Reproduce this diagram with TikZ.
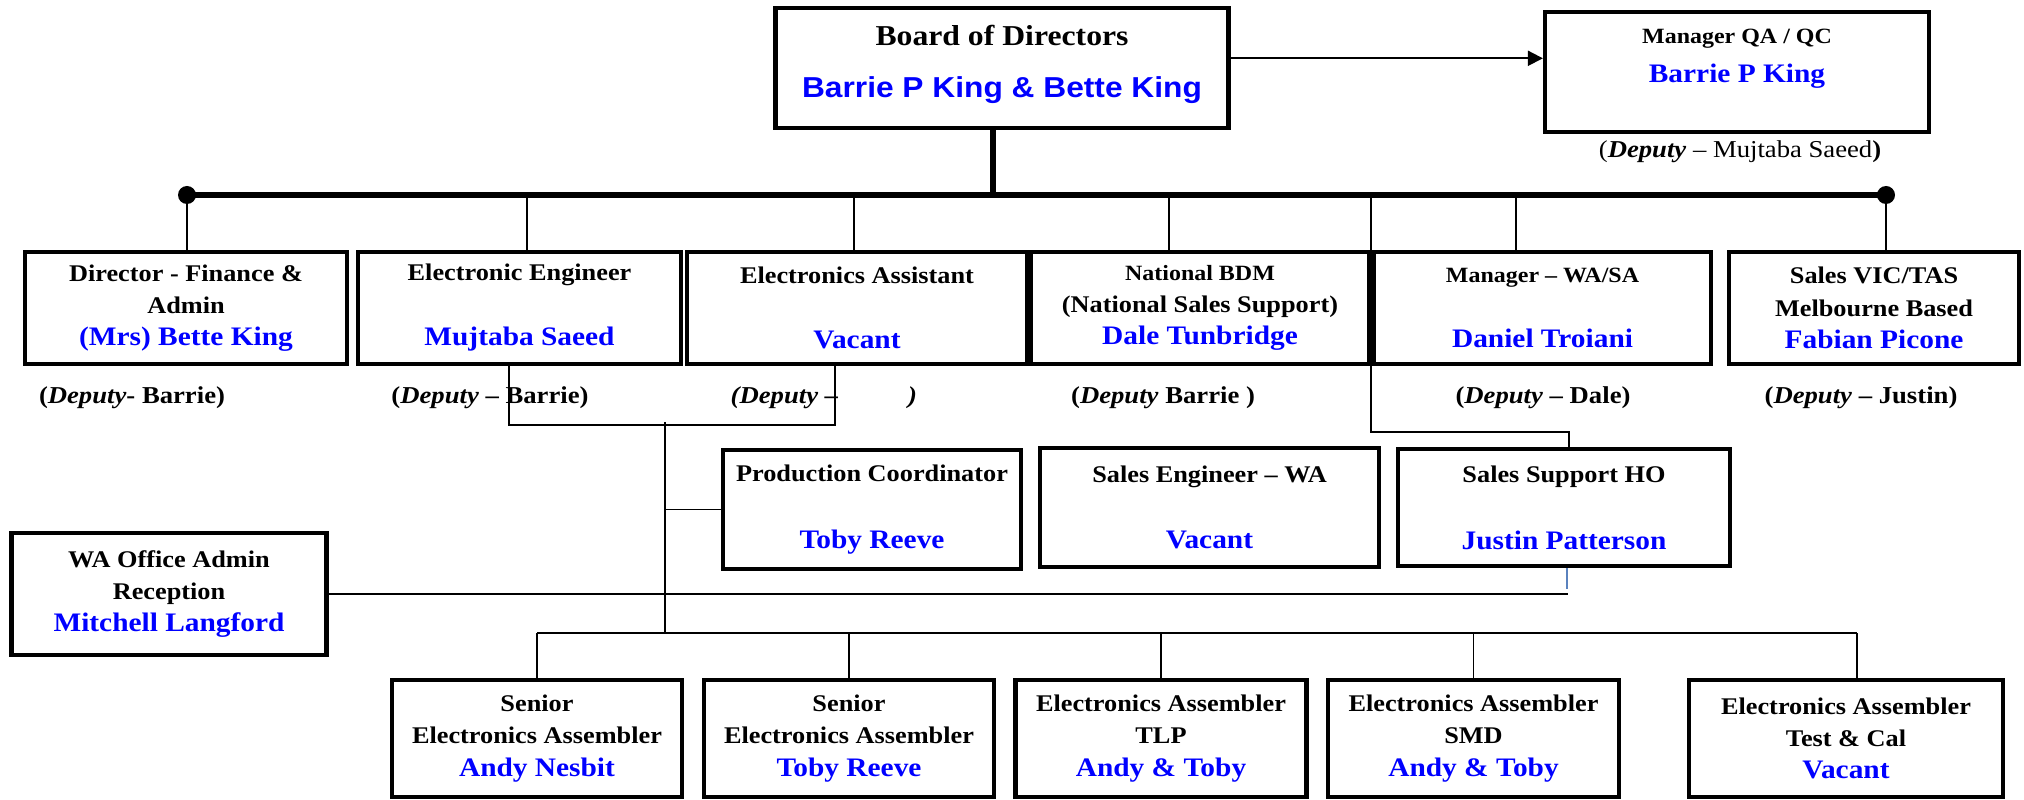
\documentclass[tikz,border=0pt]{standalone}
\usepackage{fontspec}
\setmainfont[FakeStretch=1.1]{Liberation Serif}
\newfontfamily\arialfont[FakeStretch=1.1]{Liberation Sans}
\usepackage{tikz}
\usetikzlibrary{arrows.meta}

\definecolor{steel}{RGB}{90,130,190}
\newcommand\postfont{\fontsize{6.8}{9.2}\selectfont\bfseries}
\newcommand\smallpostfont{\fontsize{6.2}{9.2}\selectfont\bfseries}
\newcommand\holderfont{\fontsize{7.6}{9.2}\selectfont\bfseries\color{blue}}
\newcommand\boardfont{\fontsize{8.2}{10}\selectfont\bfseries}
\newcommand\deputyfont{\fontsize{6.9}{9}\selectfont}

\begin{document}
\begin{tikzpicture}[
    post/.style={draw, line width=1.2pt, align=center, inner sep=0pt, font=\postfont},
    link/.style={line width=0.55pt},
    bus/.style={line width=1.8pt},
    deputy/.style={inner sep=0pt, font=\deputyfont\bfseries},
]
  \useasboundingbox (0,0) rectangle (20.24,-8.00);

  % top row
  \node[post, minimum width=4.53cm, minimum height=1.20cm, font=\boardfont, text depth=4.1pt] (board) at (10.02,-0.683)
    {Board of Directors\\[4.8pt]{\arialfont\color{blue}Barrie P King \& Bette King}};
  \node[post, minimum width=3.84cm, minimum height=1.20cm, font=\smallpostfont, text depth=9.3pt] (qa) at (17.37,-0.72)
    {Manager QA / QC\\[2pt]\holderfont Barrie P King};
  \node[deputy, font=\deputyfont] (depqa) at (17.40,-1.52) {(\textbf{\textit{Deputy}} -- Mujtaba Saeed\textbf{)}};

  % second row
  \node[post, minimum width=3.22cm, minimum height=1.12cm] (dir) at (1.86,-3.08)
    {Director - Finance \&\\Admin\\\holderfont (Mrs) Bette King};
  \node[post, minimum width=3.23cm, minimum height=1.12cm] (eng) at (5.195,-3.08)
    {Electronic Engineer\\[9.3pt]\holderfont Mujtaba Saeed};
  \node[post, minimum width=3.40cm, minimum height=1.12cm] (asst) at (8.57,-3.08)
    {Electronics Assistant\\[9.3pt]\holderfont Vacant};
  \node[post, minimum width=3.38cm, minimum height=1.12cm] (bdm) at (12.00,-3.08)
    {\smallpostfont National BDM\\(National Sales Support)\\\holderfont Dale Tunbridge};
  \node[post, minimum width=3.37cm, minimum height=1.12cm] (mgr) at (15.425,-3.08)
    {\smallpostfont Manager -- WA/SA\\[9.3pt]\holderfont Daniel Troiani};
  \node[post, minimum width=2.90cm, minimum height=1.12cm] (vic) at (18.74,-3.08)
    {Sales VIC/TAS\\Melbourne Based\\\holderfont Fabian Picone};

  \node[deputy] (dep1) at (1.32,-3.98) {(\textit{Deputy}- Barrie)};
  \node[deputy] (dep2) at (4.90,-3.98) {(\textit{Deputy} -- Barrie)};
  \node[deputy, anchor=west] (dep3) at (7.30,-3.98) {\textit{(Deputy --\hspace{0.70cm})}};
  \node[deputy] (dep4) at (11.63,-3.98) {(\textit{Deputy} Barrie )};
  \node[deputy] (dep5) at (15.43,-3.98) {(\textit{Deputy} -- Dale)};
  \node[deputy] (dep6) at (18.61,-3.98) {(\textit{Deputy} -- Justin)};

  % third row
  \node[post, minimum width=2.98cm, minimum height=1.19cm] (prod) at (8.72,-5.095)
    {Production Coordinator\\[9.8pt]\holderfont Toby Reeve};
  \node[post, minimum width=3.39cm, minimum height=1.19cm] (seng) at (12.095,-5.075)
    {Sales Engineer -- WA\\[9.8pt]\holderfont Vacant};
  \node[post, minimum width=3.32cm, minimum height=1.17cm] (supp) at (15.64,-5.075)
    {Sales Support HO\\[9.8pt]\holderfont Justin Patterson};
  \node[post, minimum width=3.15cm, minimum height=1.22cm] (wa) at (1.69,-5.94)
    {WA Office Admin\\Reception\\\holderfont Mitchell Langford};

  % bottom row
  \node[post, minimum width=2.905cm, minimum height=1.17cm] (sen1) at (5.37,-7.385)
    {Senior\\Electronics Assembler\\\holderfont Andy Nesbit};
  \node[post, minimum width=2.905cm, minimum height=1.17cm] (sen2) at (8.49,-7.385)
    {Senior\\Electronics Assembler\\\holderfont Toby Reeve};
  \node[post, minimum width=2.91cm, minimum height=1.17cm] (tlp) at (11.61,-7.385)
    {Electronics Assembler\\TLP\\\holderfont Andy \& Toby};
  \node[post, minimum width=2.91cm, minimum height=1.17cm] (smd) at (14.735,-7.385)
    {Electronics Assembler\\SMD\\\holderfont Andy \& Toby};
  \node[post, minimum width=3.145cm, minimum height=1.17cm] (cal) at (18.46,-7.385)
    {Electronics Assembler\\Test \& Cal\\\holderfont Vacant};

  % main bus
  \coordinate (busL) at (1.87,-1.95);
  \coordinate (busR) at (18.86,-1.95);
  \coordinate (b0) at (9.93,-1.95);
  \draw[bus] (busL) -- (busR);
  \fill (busL) circle (0.09);
  \fill (busR) circle (0.09);
  \draw[bus] (b0) -- (b0 |- board.south);

  \coordinate (a0) at ([yshift=0.10cm]board.east);
  \draw[link, -{Triangle[length=0.15cm, width=0.15cm]}] (a0) -- (a0 -| qa.west);

  % drops from the bus
  \coordinate (t2) at (5.27,-1.95);
  \coordinate (t3) at (8.54,-1.95);
  \coordinate (t4) at (11.69,-1.95);
  \coordinate (t5) at (15.16,-1.95);
  \coordinate (t7) at (13.71,-1.95);
  \draw[link] (busL) -- (busL |- dir.north);
  \draw[link] (t2) -- (t2 |- eng.north);
  \draw[link] (t3) -- (t3 |- asst.north);
  \draw[link] (t4) -- (t4 |- bdm.north);
  \draw[link] (t5) -- (t5 |- mgr.north);
  \draw[link] (busR) -- (busR |- vic.north);
  \draw[link] (t7) -- ++(0,-2.37) -| ([xshift=0.05cm]supp.north);

  % production branch
  \draw[link] ([xshift=-0.105cm]eng.south) -- ++(0,-0.59) -| ([xshift=-0.22cm]asst.south);
  \coordinate (j1) at (6.65,-4.22);
  \coordinate (j2) at (6.65,-6.33);
  \draw[link] (j1) -- (j2);
  \draw[link] (j1 |- prod.west) -- (prod.west);

  \coordinate (c1) at (5.37,-6.33);
  \coordinate (c5) at (18.57,-6.33);
  \draw[link] (c1) -- (c5);
  \foreach \n in {sen1,sen2,tlp,smd}
    \draw[link] (\n.north |- c1) -- (\n.north);
  \draw[link] (c5) -- (c5 |- cal.north);

  % office admin line
  \draw[link] (wa.east) -- ++(12.39,0);
  \draw[steel, line width=0.5pt] ([xshift=0.03cm]supp.south) -- ++(0,-0.21);
\end{tikzpicture}
\end{document}
